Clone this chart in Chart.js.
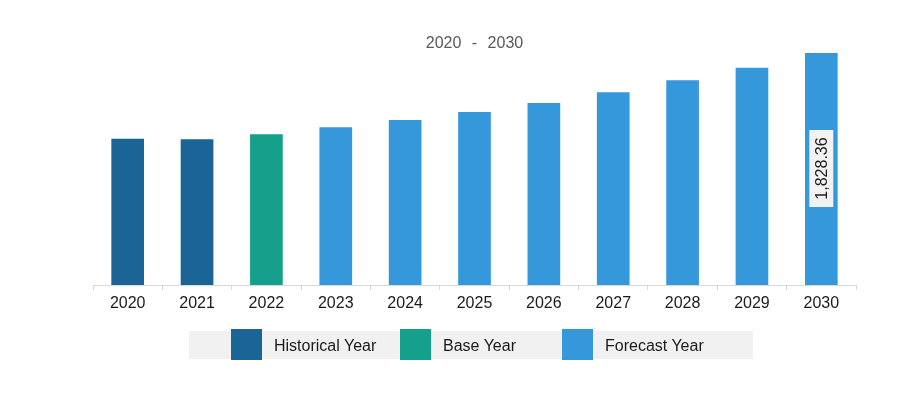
<!DOCTYPE html>
<html>
<head>
<meta charset="utf-8">
<script src="https://cdn.jsdelivr.net/npm/chart.js@4/dist/chart.umd.min.js"></script>
<style>
  html, body { margin:0; padding:0; background:#fff; }
  #wrap { position:relative; width:921px; height:393px; overflow:hidden; font-family:"Liberation Sans", Arial, sans-serif; }
  #c { position:absolute; left:0; top:0; }
  #title { position:absolute; left:93px; width:763px; top:33px; text-align:center; font-size:16px; color:#595959; word-spacing:6px; line-height:20px; }
  #legend { position:absolute; left:189px; top:331px; width:564px; height:28px; background:#f1f1f1; }
  .sw { position:absolute; top:329px; width:31px; height:31px; }
  .lt { position:absolute; top:336px; font-size:16px; color:#1a1a1a; line-height:19px; white-space:nowrap; }
</style>
</head>
<body>
<div id="wrap">
  <canvas id="c" width="921" height="393"></canvas>
  <div id="title"></div>
  <div id="legend"></div>
</div>
<script>
const titleText = "2020 - 2030";
const categories = ["2020","2021","2022","2023","2024","2025","2026","2027","2028","2029","2030"];
const values = [1155, 1151, 1190, 1245, 1303, 1365, 1436, 1520, 1614, 1713, 1828.36];
const periodOfYear = ["Historical Year","Historical Year","Base Year","Forecast Year","Forecast Year","Forecast Year","Forecast Year","Forecast Year","Forecast Year","Forecast Year","Forecast Year"];
const legendLabels = ["Historical Year","Base Year","Forecast Year"];
const legendColors = ["#1a6496","#14a08b","#3498db"];
const labelledIndex = [10];

document.getElementById('title').textContent = titleText;

// HTML legend
const wrap = document.getElementById('wrap');
const swX = [231, 400, 562];
const txX = [274, 443, 605];
legendLabels.forEach((lab, i) => {
  const s = document.createElement('div');
  s.className = 'sw'; s.style.left = swX[i] + 'px'; s.style.background = legendColors[i];
  wrap.appendChild(s);
  const t = document.createElement('div');
  t.className = 'lt'; t.style.left = txX[i] + 'px'; t.textContent = lab;
  wrap.appendChild(t);
});

const barColors = periodOfYear.map(p => legendColors[legendLabels.indexOf(p)]);

const valueLabelPlugin = {
  id: 'valueLabel',
  afterDatasetsDraw(chart) {
    const ctx = chart.ctx;
    const meta = chart.getDatasetMeta(0);
    labelledIndex.forEach(i => {
      const el = meta.data[i];
      const cx = el.x, cy = (el.y + el.base) / 2;
      const txt = values[i].toLocaleString('en-US', {minimumFractionDigits:2, maximumFractionDigits:2});
      ctx.save();
      ctx.translate(cx, cy);
      ctx.rotate(-Math.PI / 2);
      ctx.font = '16px "Liberation Sans", Arial, sans-serif';
      const w = 77, h = 24;
      ctx.fillStyle = '#f2f2f2';
      ctx.fillRect(-w / 2, -h / 2, w, h);
      ctx.fillStyle = '#1a1a1a';
      ctx.textAlign = 'center';
      ctx.textBaseline = 'middle';
      ctx.fillText(txt, 0, 1);
      ctx.restore();
    });
  }
};

new Chart(document.getElementById('c'), {
  type: 'bar',
  data: {
    labels: categories,
    datasets: [{
      data: values,
      backgroundColor: barColors,
      borderColor: 'rgba(255,255,255,0.45)',
      borderWidth: 1,
      categoryPercentage: 1,
      barPercentage: 0.5
    }]
  },
  options: {
    responsive: false,
    animation: false,
    layout: { padding: { left: 93, right: 65, top: 52, bottom: 0 } },
    plugins: { legend: { display: false }, tooltip: { enabled: false }, title: { display: false } },
    scales: {
      x: {
        afterFit(scale) { scale.height = 108; },
        border: { display: true, color: '#d9d9d9', width: 1 },
        grid: { offset: true, drawOnChartArea: false, drawTicks: true, tickLength: 5, color: '#d9d9d9' },
        ticks: { color: '#1a1a1a', padding: 4, font: { family: '"Liberation Sans", Arial, sans-serif', size: 16 }, maxRotation: 0 }
      },
      y: {
        display: false,
        min: 0,
        max: Math.max(...values)
      }
    }
  },
  plugins: [valueLabelPlugin]
});
</script>
</body>
</html>
